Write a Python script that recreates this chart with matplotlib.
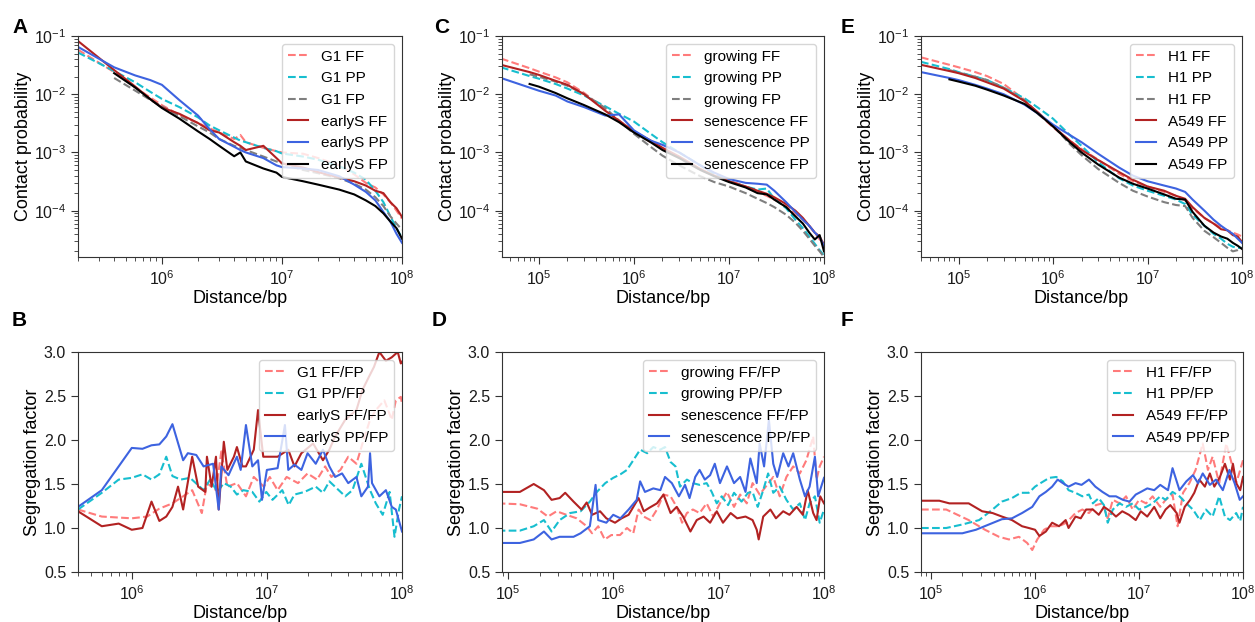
import matplotlib
matplotlib.use("Agg")
import matplotlib.pyplot as plt
import numpy as np

plt.rcParams['font.family'] = ['Liberation Sans', 'DejaVu Sans']
plt.rcParams['mathtext.fontset'] = 'custom'
plt.rcParams['mathtext.rm'] = 'Liberation Sans'
plt.rcParams['mathtext.it'] = 'Liberation Sans:italic'
plt.rcParams['mathtext.bf'] = 'Liberation Sans:bold'
plt.rcParams['axes.edgecolor'] = '#333333'
plt.rcParams['xtick.color'] = '#333333'
plt.rcParams['ytick.color'] = '#333333'
plt.rcParams['xtick.labelcolor'] = '#1a1a1a'
plt.rcParams['ytick.labelcolor'] = '#1a1a1a'
plt.rcParams['xtick.major.size'] = 5
plt.rcParams['ytick.major.size'] = 5
plt.rcParams['xtick.minor.size'] = 2.6
plt.rcParams['ytick.minor.size'] = 2.6

# ---- contact probability, distances in Mb ----
a_dist = [0.2, 0.4, 0.6, 0.8, 1.0, 1.4, 2.0, 2.5, 3.0, 4.0, 4.5, 5.0, 7.0, 9.0, 10,
          15, 20, 30, 40, 50, 60, 70, 80, 90, 100]
a_g1_ff = [5.8e-2, 2.4e-2, 1.3e-2, 8.8e-3, 6.5e-3, 4.4e-3, 3.2e-3, 2.6e-3, 2.2e-3, 1.7e-3,
           2.0e-3, 1.5e-3, 1.2e-3, 1.05e-3, 1.0e-3, 9.5e-4, 8.0e-4, 6.0e-4, 4.2e-4, 3.0e-4,
           2.5e-4, 1.9e-4, 1.4e-4, 1.0e-4, 7.3e-5]
a_g1_pp = [5.2e-2, 2.5e-2, 1.6e-2, 1.1e-2, 8.3e-3, 6.0e-3, 4.0e-3, 2.9e-3, 2.4e-3, 1.8e-3,
           1.6e-3, 1.5e-3, 1.2e-3, 1.05e-3, 9.6e-4, 8.5e-4, 7.5e-4, 5.8e-4, 4.5e-4, 3.4e-4,
           2.2e-4, 1.4e-4, 8e-5, 5e-5, 3.4e-5]
a_g1_fp = [1.9e-2, 1.15e-2, 8.0e-3, 6.2e-3, 4.2e-3, 2.8e-3, 2.2e-3, 1.7e-3, 1.3e-3,
           1.2e-3, 1.1e-3, 8.5e-4, 7.0e-4, 6.5e-4, 5.0e-4, 4.4e-4, 3.6e-4, 2.9e-4, 2.3e-4,
           1.7e-4, 1.2e-4, 8e-5, 6e-5, 4.7e-5]
a_es_ff = [8.2e-2, 2.6e-2, 1.35e-2, 8.3e-3, 5.9e-3, 4.6e-3, 3.2e-3, 2.4e-3, 2.2e-3, 1.5e-3,
           1.3e-3, 1.1e-3, 1.3e-3, 8e-4, 6.5e-4, 5.5e-4, 4.6e-4, 3.7e-4, 3.2e-4, 2.7e-4,
           2.2e-4, 2.0e-4, 1.4e-4, 1.1e-4, 7.8e-5]
a_es_pp = [6.5e-2, 2.9e-2, 2.1e-2, 1.75e-2, 1.45e-2, 7.9e-3, 4.3e-3, 2.5e-3, 1.7e-3, 1.25e-3,
           1.1e-3, 1.0e-3, 8e-4, 6e-4, 5.6e-4, 5.3e-4, 5.0e-4, 3.9e-4, 2.8e-4, 2.1e-4,
           1.5e-4, 9.5e-5, 6.5e-5, 4.0e-5, 2.8e-5]
a_es_fp = [2.3e-2, 1.3e-2, 8.2e-3, 5.8e-3, 3.8e-3, 2.3e-3, 1.7e-3, 1.3e-3, 8.6e-4,
           1.0e-3, 7.0e-4, 5.3e-4, 4.5e-4, 3.8e-4, 3.2e-4, 2.8e-4, 2.3e-4, 1.9e-4, 1.5e-4,
           1.2e-4, 9e-5, 6.5e-5, 5e-5, 3.3e-5]

c_dist = [0.04, 0.08, 0.1, 0.15, 0.2, 0.3, 0.5, 0.7, 1.0, 1.5, 2.0, 3, 5, 7, 10, 15, 20,
          25, 30, 40, 50, 60, 70, 80, 90, 100]
c_gr_ff = [4.1e-2, 2.8e-2, 2.45e-2, 1.95e-2, 1.6e-2, 1.05e-2, 5.5e-3, 3.5e-3, 2.3e-3, 1.5e-3,
           1.15e-3, 8e-4, 5e-4, 4e-4, 3.3e-4, 2.6e-4, 2.1e-4, 1.8e-4, 1.55e-4, 1.2e-4,
           9e-5, 7e-5, 5.5e-5, 4.2e-5, 3.2e-5, 2.4e-5]
c_gr_pp = [2.9e-2, 2.05e-2, 1.85e-2, 1.5e-2, 1.25e-2, 9.5e-3, 6.2e-3, 4.6e-3, 3.4e-3, 2.1e-3,
           1.5e-3, 1.0e-3, 6e-4, 4.3e-4, 3.2e-4, 2.6e-4, 2.3e-4, 2.4e-4, 1.6e-4, 1.1e-4,
           7e-5, 5e-5, 3.6e-5, 2.7e-5, 2.1e-5, 1.7e-5]
c_gr_fp = [2.2e-2, 2.0e-2, 1.65e-2, 1.4e-2, 1.0e-2, 5.8e-3, 3.5e-3, 2.1e-3, 1.25e-3,
           8.8e-4, 6e-4, 3.9e-4, 3.1e-4, 2.6e-4, 2e-4, 1.6e-4, 1.35e-4, 1.15e-4, 8.5e-5,
           6.2e-5, 4.5e-5, 3.3e-5, 2.5e-5, 2e-5, 1.6e-5]
c_se_ff = [3.2e-2, 2.4e-2, 2.15e-2, 1.7e-2, 1.45e-2, 1.0e-2, 5.2e-3, 3.5e-3, 2.3e-3, 1.6e-3,
           1.2e-3, 8.5e-4, 5.2e-4, 4e-4, 3.2e-4, 2.6e-4, 2.2e-4, 1.95e-4, 1.7e-4, 1.3e-4,
           1.0e-4, 7.5e-5, 5.5e-5, 4.2e-5, 3.6e-5, 2.6e-5]
c_se_pp = [1.9e-2, 1.3e-2, 1.15e-2, 9.5e-3, 7.5e-3, 6.0e-3, 4.3e-3, 4.5e-3, 2.4e-3, 1.6e-3,
           1.35e-3, 1.0e-3, 6e-4, 4.5e-4, 3.5e-4, 3.0e-4, 2.9e-4, 2.8e-4, 2.2e-4, 1.4e-4,
           9.5e-5, 7e-5, 5.5e-5, 4.2e-5, 3.5e-5, 2.5e-5]
c_se_fp = [1.5e-2, 1.35e-2, 1.05e-2, 8.5e-3, 6.5e-3, 4.5e-3, 3.3e-3, 2.2e-3, 1.5e-3,
           1.1e-3, 8e-4, 5e-4, 3.9e-4, 3.1e-4, 2.5e-4, 2.0e-4, 1.9e-4, 1.55e-4, 1.15e-4,
           8e-5, 6e-5, 4.2e-5, 3.2e-5, 3.8e-5, 2.0e-5]

e_dist = c_dist
e_h1_ff = [4.3e-2, 3.2e-2, 2.9e-2, 2.4e-2, 2.05e-2, 1.5e-2, 8.0e-3, 4.6e-3, 2.7e-3, 1.6e-3,
           1.15e-3, 7.5e-4, 4.3e-4, 3.2e-4, 2.6e-4, 2.1e-4, 1.8e-4, 1.5e-4, 1.1e-4, 7.5e-5,
           6e-5, 5.2e-5, 4.6e-5, 4.2e-5, 3.9e-5, 3.6e-5]
e_h1_pp = [3.6e-2, 2.7e-2, 2.4e-2, 2.0e-2, 1.75e-2, 1.3e-2, 8.5e-3, 5.8e-3, 3.8e-3, 2.0e-3,
           1.3e-3, 6.8e-4, 3.6e-4, 2.7e-4, 2.2e-4, 1.8e-4, 1.55e-4, 1.3e-4, 8.5e-5, 5.5e-5,
           4e-5, 3.3e-5, 2.7e-5, 2.4e-5, 2.3e-5, 2.3e-5]
e_h1_fp = [2.6e-2, 2.35e-2, 2.0e-2, 1.75e-2, 1.3e-2, 7.8e-3, 4.5e-3, 2.9e-3, 1.4e-3,
           9e-4, 5.2e-4, 3.0e-4, 2.2e-4, 1.75e-4, 1.4e-4, 1.25e-4, 1.2e-4, 7.5e-5, 4.5e-5,
           3.5e-5, 2.8e-5, 2.3e-5, 2.0e-5, 2.1e-5, 2.3e-5]
e_a5_ff = [3.2e-2, 2.5e-2, 2.3e-2, 1.9e-2, 1.6e-2, 1.25e-2, 7.6e-3, 4.8e-3, 2.8e-3, 1.6e-3,
           1.1e-3, 7.4e-4, 4.6e-4, 3.4e-4, 2.6e-4, 2.2e-4, 1.8e-4, 1.6e-4, 1.15e-4, 7.5e-5,
           6e-5, 4.8e-5, 4.6e-5, 3.8e-5, 3.6e-5, 2.9e-5]
e_a5_pp = [2.4e-2, 1.9e-2, 1.75e-2, 1.45e-2, 1.25e-2, 1.0e-2, 6.6e-3, 4.6e-3, 3.0e-3, 2.0e-3,
           1.5e-3, 9.5e-4, 5.5e-4, 4.0e-4, 3.2e-4, 2.7e-4, 2.4e-4, 2.1e-4, 1.55e-4, 1.0e-4,
           7e-5, 5.5e-5, 4.6e-5, 4e-5, 3.3e-5, 2.8e-5]
e_a5_fp = [1.8e-2, 1.65e-2, 1.4e-2, 1.2e-2, 9.5e-3, 6.8e-3, 4.6e-3, 2.8e-3, 1.5e-3,
           1.0e-3, 6.2e-4, 3.7e-4, 2.9e-4, 2.4e-4, 1.9e-4, 1.6e-4, 1.55e-4, 9.5e-5, 5.5e-5,
           4.2e-5, 3.6e-5, 3.3e-5, 2.8e-5, 2.5e-5, 2.2e-5]

# ---- segregation factor, distances in Mb ----
b_g1_ff_x = [0.4, 0.6, 1.0, 1.3, 1.6, 2.0, 2.4, 2.8, 3.3, 3.6, 4.2, 4.6, 5.1, 6.0, 7.0, 8.0,
             9.5, 10.5, 12, 14, 17, 20, 23.5, 27, 30, 35, 40, 46, 51, 58, 64, 74, 84, 90, 98, 100]
b_g1_ff_y = [1.21, 1.13, 1.11, 1.13, 1.22, 1.28, 1.36, 1.43, 1.17, 1.51, 1.43, 1.87, 1.47, 1.51,
             1.36, 1.58, 1.47, 1.58, 1.43, 1.58, 1.51, 1.62, 1.55, 1.70, 1.58, 1.66, 1.81, 1.73,
             1.96, 2.23, 2.34, 2.45, 2.23, 2.45, 2.49, 2.41]
b_g1_pp_x = [0.4, 0.6, 0.8, 1.0, 1.2, 1.4, 1.6, 1.8, 2.0, 2.3, 2.7, 3.4, 3.8, 4.3, 4.8, 5.4,
             6.0, 6.7, 7.8, 8.8, 9.9, 11, 13, 14.5, 16, 19, 23, 26, 29, 34, 38, 43, 50, 58, 64,
             72, 81, 88, 95, 100]
b_g1_pp_y = [1.21, 1.40, 1.55, 1.57, 1.61, 1.55, 1.61, 1.81, 1.59, 1.55, 1.57, 1.43, 1.55, 1.41,
             1.51, 1.47, 1.38, 1.43, 1.41, 1.30, 1.41, 1.32, 1.43, 1.26, 1.38, 1.41, 1.47, 1.40,
             1.53, 1.43, 1.36, 1.43, 1.73, 1.43, 1.28, 1.15, 1.41, 0.90, 1.21, 1.36]
b_es_ff_x = [0.4, 0.6, 0.8, 1.0, 1.2, 1.4, 1.6, 1.8, 2.0, 2.2, 2.4, 2.8, 3.1, 3.5, 3.6, 3.9,
             4.2, 4.4, 4.8, 5.1, 5.7, 6.0, 6.6, 7.0, 8.0, 8.6, 9.4, 12, 14.4, 16, 18, 22, 26, 29,
             32, 38, 46, 51, 57, 62, 68, 76, 84, 93, 98, 100]
b_es_ff_y = [1.19, 1.02, 1.05, 0.98, 1.00, 1.30, 1.08, 1.13, 1.24, 1.47, 1.21, 1.81, 1.47, 1.41,
             1.81, 1.47, 1.81, 1.21, 1.98, 1.66, 1.81, 1.92, 1.70, 1.70, 1.89, 2.34, 1.81, 1.81,
             1.89, 1.70, 1.85, 1.96, 1.77, 1.89, 2.04, 2.23, 2.34, 2.57, 2.72, 2.83, 3.0, 2.9,
             2.94, 3.0, 2.87, 2.89]
b_es_pp_x = [0.4, 0.6, 0.8, 1.0, 1.2, 1.4, 1.6, 1.8, 2.0, 2.4, 2.6, 3.0, 3.4, 4.0, 4.4, 4.6,
             5.2, 6.0, 6.4, 7.0, 7.8, 8.6, 9.2, 10, 12, 13.6, 14.4, 16, 18, 20, 23, 26, 29, 32,
             36, 40, 46, 50, 56, 58, 60, 68, 76, 84, 90, 100]
b_es_pp_y = [1.24, 1.43, 1.70, 1.91, 1.90, 1.94, 1.95, 2.04, 2.18, 1.77, 1.85, 1.83, 1.70, 1.73,
             1.21, 1.70, 1.60, 1.81, 1.66, 2.17, 1.70, 1.77, 1.32, 1.66, 1.68, 2.17, 1.66, 1.72,
             1.66, 1.85, 1.73, 1.89, 1.70, 1.58, 1.62, 1.51, 1.58, 1.36, 1.47, 1.85, 1.51, 1.36,
             1.43, 1.24, 1.21, 0.96]

d_gr_ff_x = [0.08, 0.13, 0.19, 0.24, 0.29, 0.36, 0.45, 0.56, 0.63, 0.72, 0.83, 0.96, 1.16, 1.35,
             1.55, 1.74, 1.95, 2.25, 2.6, 3.0, 3.5, 4.0, 4.5, 5.0, 5.7, 6.6, 7.7, 8.9, 10.3, 12,
             14, 16, 18.5, 21, 24.5, 28, 33, 38, 44, 51, 59, 68, 79, 85, 91, 100]
d_gr_ff_y = [1.28, 1.27, 1.22, 1.13, 1.19, 1.15, 1.11, 1.02, 0.94, 1.02, 0.87, 0.92, 0.92, 1.00,
             0.94, 1.21, 1.13, 1.09, 1.21, 1.38, 1.36, 1.24, 1.06, 1.17, 1.21, 1.17, 1.28, 1.13,
             1.28, 1.41, 1.24, 1.38, 1.28, 1.51, 1.38, 1.47, 1.58, 1.36, 1.58, 1.70, 1.62, 1.77,
             2.04, 1.55, 1.70, 1.81]
d_gr_pp_x = [0.08, 0.13, 0.176, 0.22, 0.26, 0.31, 0.39, 0.49, 0.6, 0.7, 0.84, 1.0, 1.17, 1.35,
             1.55, 1.8, 2.1, 2.4, 2.8, 3.1, 3.5, 3.9, 4.3, 5.0, 5.7, 6.6, 7.7, 8.6, 9.6, 10.7,
             12.3, 14, 16.5, 19, 21, 23.5, 26.5, 29.5, 33, 38, 44, 51, 59, 66, 73, 82, 91, 100]
d_gr_pp_y = [0.97, 0.97, 1.02, 1.09, 0.96, 1.09, 1.17, 1.19, 1.30, 1.41, 1.51, 1.57, 1.61, 1.66,
             1.77, 1.89, 1.85, 1.92, 1.89, 1.92, 1.75, 1.70, 1.47, 1.55, 1.51, 1.49, 1.51, 1.41,
             1.28, 1.36, 1.26, 1.40, 1.30, 1.40, 1.41, 1.24, 1.43, 1.62, 1.40, 1.47, 1.32, 1.21,
             1.28, 1.09, 1.28, 1.36, 1.06, 1.21]
d_se_ff_x = [0.08, 0.13, 0.176, 0.22, 0.26, 0.31, 0.35, 0.42, 0.5, 0.56, 0.63, 0.75, 0.86, 1.04,
             1.2, 1.4, 1.74, 1.95, 2.2, 2.6, 3.0, 3.5, 4.0, 4.6, 5.4, 6.2, 7.2, 8.3, 9.6, 11, 13,
             15, 18, 21, 23, 24, 26.5, 31, 35, 41, 47, 55, 63, 70, 79, 85, 92, 100]
d_se_ff_y = [1.41, 1.41, 1.50, 1.43, 1.32, 1.34, 1.40, 1.30, 1.21, 1.29, 1.15, 1.19, 1.11, 1.06,
             1.11, 1.15, 1.34, 1.19, 1.23, 1.28, 1.38, 1.17, 1.24, 1.13, 0.96, 1.09, 1.13, 1.06,
             1.19, 1.06, 1.17, 1.11, 1.13, 1.09, 0.98, 0.87, 1.13, 1.21, 1.11, 1.19, 1.15, 1.24,
             1.15, 1.43, 1.17, 1.09, 1.36, 1.28]
d_se_pp_x = [0.08, 0.13, 0.176, 0.22, 0.26, 0.31, 0.42, 0.49, 0.6, 0.68, 0.72, 0.86, 1.0, 1.17,
             1.4, 1.67, 1.8, 2.0, 2.4, 2.8, 3.1, 3.6, 4.2, 4.8, 5.3, 6.0, 6.6, 7.4, 8.3, 9.2,
             10.3, 12, 14, 16, 18, 20, 23, 24.5, 27, 30, 33, 36, 41, 46, 51, 59, 66, 73, 82, 88, 100]
d_se_pp_y = [0.83, 0.83, 0.87, 0.96, 0.87, 0.90, 0.90, 0.94, 1.02, 1.49, 1.09, 1.06, 1.15, 1.11,
             1.21, 1.32, 1.53, 1.41, 1.45, 1.43, 1.58, 1.51, 1.36, 1.49, 1.34, 1.58, 1.66, 1.55,
             1.60, 1.73, 1.51, 1.70, 1.51, 1.58, 1.41, 1.79, 1.51, 1.96, 1.70, 2.23, 1.73, 1.58,
             1.85, 1.70, 1.85, 1.55, 1.36, 1.47, 1.81, 1.36, 1.57]

f_h1_ff_x = [0.08, 0.14, 0.23, 0.33, 0.45, 0.56, 0.7, 0.84, 0.94, 1.05, 1.22, 1.4, 1.7, 2.0,
             2.45, 2.85, 3.3, 3.85, 4.45, 5.0, 5.6, 6.5, 7.5, 8.7, 10, 11.7, 13.5, 16, 18, 21,
             23.5, 26.5, 30.5, 35, 41, 46, 51, 59, 69, 78, 86, 94, 100]
f_h1_ff_y = [1.21, 1.21, 1.09, 0.98, 0.90, 0.87, 0.90, 0.83, 0.75, 0.87, 0.98, 1.02, 1.02, 1.06,
             1.17, 1.21, 1.17, 1.26, 1.28, 1.11, 1.32, 1.28, 1.36, 1.21, 1.32, 1.28, 1.36, 1.24,
             1.32, 1.38, 1.02, 1.40, 1.51, 1.66, 1.96, 1.66, 1.81, 1.51, 1.96, 1.73, 1.51, 1.66, 1.77]
f_h1_pp_x = [0.08, 0.14, 0.2, 0.29, 0.39, 0.48, 0.6, 0.73, 0.87, 1.0, 1.13, 1.37, 1.6, 1.85,
             2.1, 2.45, 2.85, 3.3, 3.6, 4.1, 4.6, 5.0, 5.6, 6.5, 7.5, 8.7, 10, 11.7, 13.5, 16,
             18, 21, 24.5, 28.5, 33, 38.5, 44, 51, 59, 67, 75, 86, 94, 100]
f_h1_pp_y = [1.00, 1.00, 1.04, 1.09, 1.21, 1.30, 1.34, 1.40, 1.40, 1.47, 1.51, 1.57, 1.58, 1.53,
             1.43, 1.40, 1.36, 1.38, 1.28, 1.34, 1.26, 1.06, 1.21, 1.28, 1.24, 1.28, 1.21, 1.24,
             1.28, 1.36, 1.32, 1.41, 1.36, 1.28, 1.21, 1.09, 1.21, 1.13, 1.36, 1.13, 1.09, 1.17,
             1.08, 1.24]
f_a5_ff_x = [0.08, 0.12, 0.15, 0.23, 0.31, 0.39, 0.48, 0.6, 0.75, 0.87, 1.0, 1.1, 1.27, 1.46,
             1.7, 1.97, 2.1, 2.45, 2.75, 3.1, 3.6, 4.1, 4.6, 5.3, 6.0, 6.9, 8.0, 9.3, 10.4, 12,
             14, 16, 18, 20, 23, 24.5, 27.5, 31, 34, 38, 43, 48, 53, 60, 67, 75, 80, 86, 94, 100]
f_a5_ff_y = [1.31, 1.31, 1.28, 1.28, 1.19, 1.17, 1.13, 1.09, 1.02, 1.00, 0.98, 0.91, 0.96, 1.06,
             1.02, 1.09, 1.00, 1.13, 1.11, 1.21, 1.21, 1.15, 1.24, 1.19, 1.13, 1.19, 1.15, 1.09,
             1.19, 1.13, 1.24, 1.11, 1.21, 1.26, 1.17, 1.06, 1.24, 1.32, 1.40, 1.55, 1.47, 1.62,
             1.47, 1.58, 1.73, 1.55, 1.73, 1.51, 1.43, 1.58]
f_a5_pp_x = [0.08, 0.2, 0.27, 0.36, 0.48, 0.6, 0.75, 0.94, 1.1, 1.27, 1.46, 1.65, 1.85, 2.1,
             2.45, 2.8, 3.3, 3.8, 4.45, 5.2, 6.0, 7.0, 8.1, 9.3, 10.4, 12, 14, 16, 19, 21, 24.5,
             28.5, 33, 37, 41, 48, 55, 64, 74, 83, 93, 100]
f_a5_pp_y = [0.94, 0.94, 0.98, 1.04, 1.10, 1.11, 1.17, 1.24, 1.36, 1.41, 1.47, 1.55, 1.51, 1.47,
             1.51, 1.49, 1.55, 1.47, 1.41, 1.36, 1.36, 1.32, 1.30, 1.38, 1.41, 1.45, 1.43, 1.49,
             1.43, 1.68, 1.43, 1.53, 1.60, 1.51, 1.62, 1.49, 1.55, 1.43, 1.66, 1.51, 1.32, 1.36]

SALMON, CYAN, GRAY = '#ff7b7b', '#17becf', '#7f7f7f'
RED, BLUE, BLACK = '#b22222', '#3d63e0', 'black'
W, H = 1255, 622


def rect(l, r, t, b):
    return [l / W, 1 - b / H, (r - l) / W, (b - t) / H]


def contact(ax, dist, lines, xmin):
    for y, lab, col, ls in lines:
        x = np.array(dist[len(dist) - len(y):]) * 1e6
        ax.plot(x, y, ls, color=col, lw=1.5, label=lab)
    ax.set_xscale('log')
    ax.set_yscale('log')
    ax.set_xlim(xmin, 1e8)
    ax.set_ylim(1.6e-5, 1e-1)
    ax.set_ylabel('Contact probability', fontsize=13, labelpad=1)
    ax.set_xlabel('Distance/bp', fontsize=13, labelpad=2)
    ax.tick_params(labelsize=11.5)
    ax.legend(loc='upper right', fontsize=11, handlelength=1.3)


def segreg(ax, lines, xmin):
    for x, y, lab, col, ls in lines:
        ax.plot(np.array(x) * 1e6, y, ls, color=col, lw=1.5, label=lab)
    ax.set_xscale('log')
    ax.set_xlim(xmin, 1e8)
    ax.set_ylim(0.5, 3.0)
    ax.set_yticks([0.5, 1.0, 1.5, 2.0, 2.5, 3.0])
    ax.set_ylabel('Segregation factor', fontsize=13, labelpad=2)
    ax.set_xlabel('Distance/bp', fontsize=13, labelpad=2)
    ax.tick_params(labelsize=11.5)
    ax.legend(loc='upper right', fontsize=11, handlelength=1.3)


fig = plt.figure(figsize=(12.55, 6.22), dpi=100)

axA = fig.add_axes(rect(78, 402, 36, 257))
contact(axA, a_dist, [(a_g1_ff, 'G1 FF', SALMON, '--'), (a_g1_pp, 'G1 PP', CYAN, '--'),
                      (a_g1_fp, 'G1 FP', GRAY, '--'), (a_es_ff, 'earlyS FF', RED, '-'),
                      (a_es_pp, 'earlyS PP', BLUE, '-'), (a_es_fp, 'earlyS FP', BLACK, '-')], 2e5)

axC = fig.add_axes(rect(502, 824, 36, 257))
contact(axC, c_dist, [(c_gr_ff, 'growing FF', SALMON, '--'), (c_gr_pp, 'growing PP', CYAN, '--'),
                      (c_gr_fp, 'growing FP', GRAY, '--'), (c_se_ff, 'senescence FF', RED, '-'),
                      (c_se_pp, 'senescence PP', BLUE, '-'),
                      (c_se_fp, 'senescence FP', BLACK, '-')], 4.1e4)

axE = fig.add_axes(rect(921, 1242, 36, 257))
contact(axE, e_dist, [(e_h1_ff, 'H1 FF', SALMON, '--'), (e_h1_pp, 'H1 PP', CYAN, '--'),
                      (e_h1_fp, 'H1 FP', GRAY, '--'), (e_a5_ff, 'A549 FF', RED, '-'),
                      (e_a5_pp, 'A549 PP', BLUE, '-'), (e_a5_fp, 'A549 FP', BLACK, '-')], 4e4)

axB = fig.add_axes(rect(78, 402, 352, 572))
segreg(axB, [(b_g1_ff_x, b_g1_ff_y, 'G1 FF/FP', SALMON, '--'),
             (b_g1_pp_x, b_g1_pp_y, 'G1 PP/FP', CYAN, '--'),
             (b_es_ff_x, b_es_ff_y, 'earlyS FF/FP', RED, '-'),
             (b_es_pp_x, b_es_pp_y, 'earlyS PP/FP', BLUE, '-')], 4e5)

axD = fig.add_axes(rect(502, 824, 352, 572))
segreg(axD, [(d_gr_ff_x, d_gr_ff_y, 'growing FF/FP', SALMON, '--'),
             (d_gr_pp_x, d_gr_pp_y, 'growing PP/FP', CYAN, '--'),
             (d_se_ff_x, d_se_ff_y, 'senescence FF/FP', RED, '-'),
             (d_se_pp_x, d_se_pp_y, 'senescence PP/FP', BLUE, '-')], 8.8e4)

axF = fig.add_axes(rect(921, 1243, 352, 572))
segreg(axF, [(f_h1_ff_x, f_h1_ff_y, 'H1 FF/FP', SALMON, '--'),
             (f_h1_pp_x, f_h1_pp_y, 'H1 PP/FP', CYAN, '--'),
             (f_a5_ff_x, f_a5_ff_y, 'A549 FF/FP', RED, '-'),
             (f_a5_pp_x, f_a5_pp_y, 'A549 PP/FP', BLUE, '-')], 8e4)

for lab, px, py in [('A', 12, 33), ('B', 12, 326), ('C', 434, 33), ('D', 432, 326),
                    ('E', 841, 33), ('F', 841, 326)]:
    fig.text(px / W, 1 - py / H, lab, fontsize=15, fontweight='bold', ha='left', va='baseline')

fig.savefig('out.png', dpi=100)
